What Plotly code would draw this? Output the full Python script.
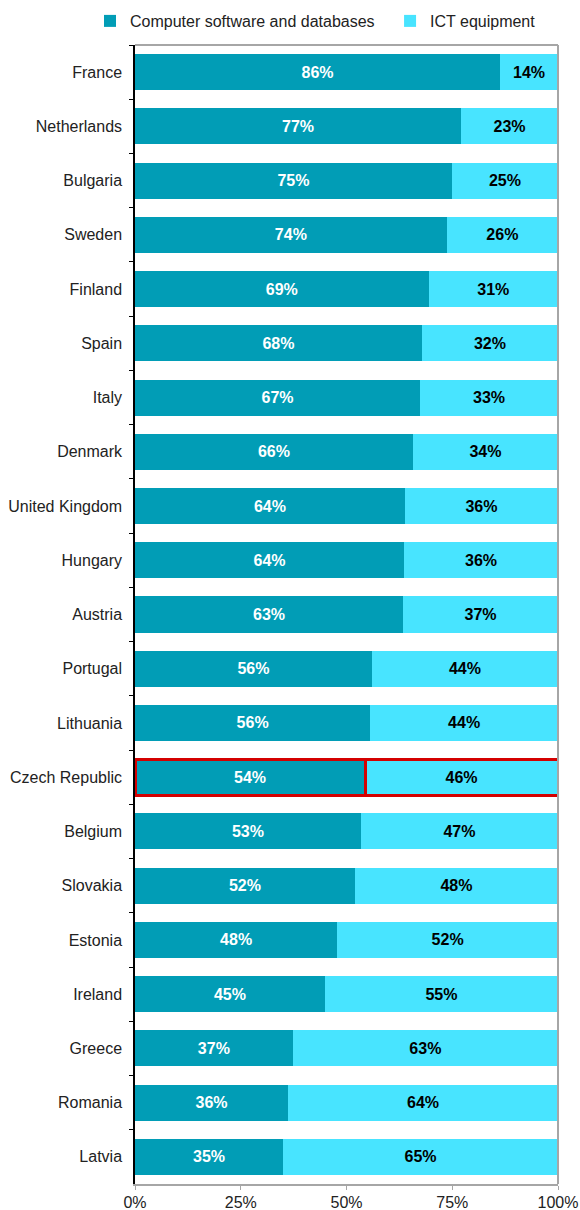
import plotly.graph_objects as go

countries = ["France", "Netherlands", "Bulgaria", "Sweden", "Finland", "Spain", "Italy",
             "Denmark", "United Kingdom", "Hungary", "Austria", "Portugal", "Lithuania",
             "Czech Republic", "Belgium", "Slovakia", "Estonia", "Ireland", "Greece",
             "Romania", "Latvia"]
software = [86.3, 77.1, 74.9, 73.7, 69.4, 67.8, 67.4, 65.7, 63.8, 63.6, 63.4, 56.0, 55.6,
            54.4, 53.4, 52.0, 47.8, 44.9, 37.3, 36.2, 35.0]
ict = [round(100 - v, 1) for v in software]
series_names = ["Computer software and databases", "ICT equipment"]
tick_vals = [0, 25, 50, 75, 100]
tick_text = ["0%", "25%", "50%", "75%", "100%"]
highlight = "Czech Republic"

DARK = "#019DB6"
LIGHT = "#48E4FF"
RED = "#D40000"
GRAY = "#A6A6A6"
FONT = "Liberation Sans, Arial"

line_colors = [RED if c == highlight else "rgba(0,0,0,0)" for c in countries]
line_widths = [3 if c == highlight else 0 for c in countries]

fig = go.Figure()
fig.add_trace(go.Bar(
    y=countries, x=software, orientation="h", name=series_names[0], legend="legend",
    marker=dict(color=DARK, line=dict(color=line_colors, width=line_widths)),
    text=[f"{round(v)}%" for v in software], textposition="inside",
    insidetextanchor="middle", textangle=0, constraintext="none",
    textfont=dict(family=FONT, size=16, color="white", weight="bold"),
))
fig.add_trace(go.Bar(
    y=countries, x=ict, orientation="h", name=series_names[1], legend="legend2",
    marker=dict(color=LIGHT, line=dict(color=line_colors, width=line_widths)),
    text=[f"{round(v)}%" for v in ict], textposition="inside",
    insidetextanchor="middle", textangle=0, constraintext="none",
    textfont=dict(family=FONT, size=16, color="black", weight="bold"),
))

legend_common = dict(orientation="h", xanchor="left", y=1.036, yanchor="top",
                     font=dict(size=16, color="#222222"), itemwidth=30,
                     bgcolor="rgba(0,0,0,0)")

fig.update_layout(
    width=580, height=1210,
    barmode="stack", bargap=0.336,
    margin=dict(l=135, r=22, t=45, b=26, autoexpand=False),
    paper_bgcolor="white", plot_bgcolor="white",
    font=dict(family=FONT, size=16, color="#222222"),
    showlegend=True,
    legend=dict(x=-0.1064, **legend_common),
    legend2=dict(x=0.603, **legend_common),
    xaxis=dict(range=[0, 100], tickvals=tick_vals, ticktext=tick_text,
               showgrid=False, zeroline=False, showline=True, linecolor=GRAY,
               linewidth=1.5, ticks="outside", ticklen=4, tickcolor=GRAY,
               ticklabelstandoff=-1,
               automargin=False, tickfont=dict(size=16, color="#222222")),
    yaxis=dict(categoryorder="array", categoryarray=countries, autorange="reversed",
               showgrid=False, showline=True, linecolor="black", linewidth=1.5,
               ticks="outside", ticklen=4, tickcolor="black", tickson="boundaries",
               ticklabelstandoff=8, automargin=False,
               tickfont=dict(size=16, color="#222222")),
    shapes=[
        dict(type="line", xref="paper", yref="paper", x0=0, x1=1, y0=1, y1=1,
             line=dict(color=GRAY, width=2), layer="above"),
        dict(type="line", xref="paper", yref="paper", x0=1, x1=1, y0=0, y1=1,
             line=dict(color=GRAY, width=2), layer="above"),
    ],
)

fig.write_html(
    "out.html",
    config={"displayModeBar": False},
    post_script="document.body.style.margin='0';document.body.style.overflow='hidden';",
)
